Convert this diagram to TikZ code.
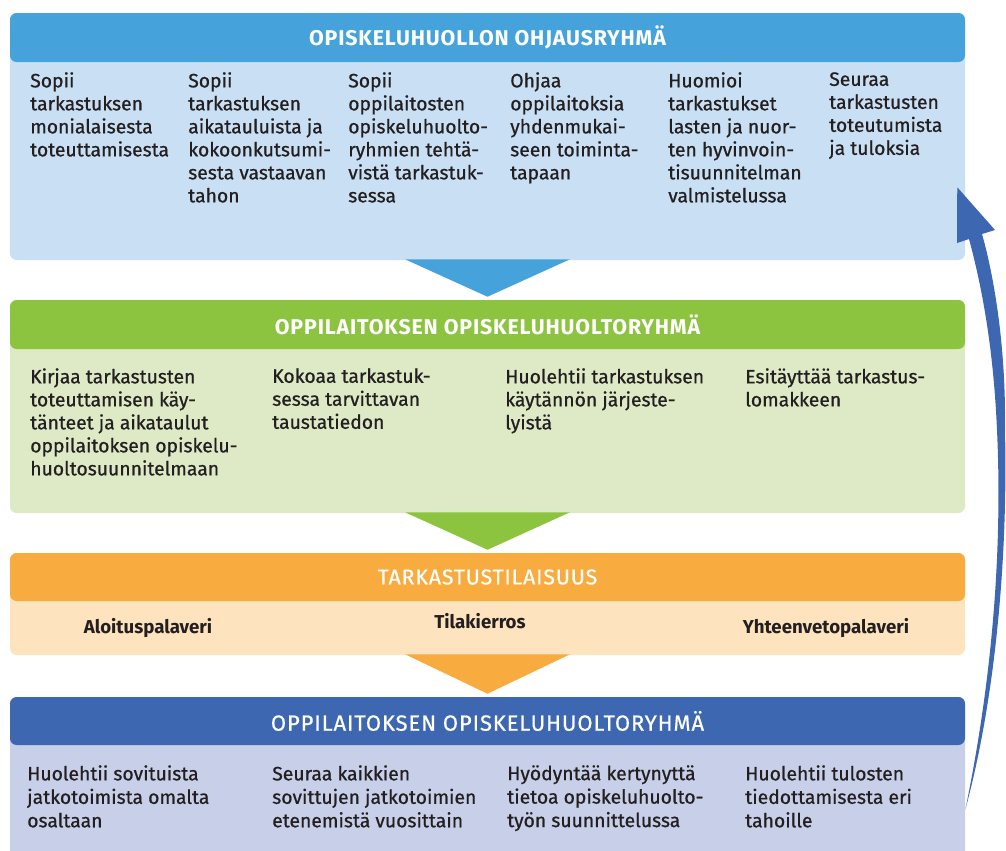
\documentclass[tikz,border=0pt]{standalone}
\usepackage{fontspec}
\setmainfont{Fira Sans}
\newfontfamily\leipa[FakeBold=0.7]{Fira Sans}
\newfontfamily\otsake[LetterSpace=4]{Fira Sans}
\newfontfamily\otsakeohut[LetterSpace=4, FakeBold=0.6]{Fira Sans}
\usetikzlibrary{calc,fit}

\definecolor{sininen}{HTML}{46A2DB}
\definecolor{sininenvaalea}{HTML}{C9DFF3}
\definecolor{vihrea}{HTML}{8DC43F}
\definecolor{vihreavaalea}{HTML}{DDEAC5}
\definecolor{oranssi}{HTML}{F8AB3E}
\definecolor{oranssivaalea}{HTML}{FDE3BE}
\definecolor{tumma}{HTML}{3E67B1}
\definecolor{tummavaalea}{HTML}{C8CFE8}
\definecolor{teksti}{HTML}{231F20}

\tikzset{
  runko/.style={fill=#1, rounded corners=5pt, inner sep=0pt},
  otsikko/.style={fill=#1, rounded corners=5pt, anchor=north, minimum width=716.25pt,
    minimum height=36.75pt, text=white, font=\otsake\bfseries\fontsize{16}{18}\selectfont},
  palsta/.style={anchor=north west, align=left, inner sep=0pt, text=teksti,
    font=\leipa\fontsize{14.5}{17.25}\selectfont},
  alapalsta/.style={palsta, font=\leipa\fontsize{14.5}{17.6}\selectfont},
  vaihe/.style={inner sep=0pt, text=teksti, font=\bfseries\fontsize{14}{16}\selectfont},
}

\begin{document}
\begin{tikzpicture}[x=0.75pt, y=-0.75pt]
    \useasboundingbox (0,0) rectangle (1006,850);
    \clip (0,0) rectangle (1006,850);

    % Ohjausryhma
    \coordinate (o1) at (10,13);
    \coordinate (o2) at (965,260);
    \node[runko=sininenvaalea, fit=(o1)(o2)] (ohjaus) {};
    \node[otsikko=sininen] (ohjausotsikko) at (ohjaus.north) {OPISKELUHUOLLON OHJAUSRYHMÄ};

    \node[palsta] (ohjaus1) at (30,72) {Sopii\\tarkastuksen\\monialaisesta\\toteuttamisesta};
    \node[palsta] (ohjaus2) at (188,72) {Sopii\\tarkastuksen\\aikatauluista ja\\kokoonkutsumi-\\sesta vastaavan\\tahon};
    \node[palsta] (ohjaus3) at (348,72) {Sopii\\oppilaitosten\\opiskeluhuolto-\\ryhmien tehtä-\\vistä tarkastuk-\\sessa};
    \node[palsta] (ohjaus4) at (510,72) {Ohjaa\\oppilaitoksia\\yhdenmukai-\\seen toiminta-\\tapaan};
    \node[palsta] (ohjaus5) at (668,72) {Huomioi\\tarkastukset\\lasten ja nuor-\\ten hyvinvoin-\\tisuunnitelman\\valmistelussa};
    \node[palsta] (ohjaus6) at (829,72) {Seuraa\\tarkastusten\\toteutumista\\ja tuloksia};

    % Oppilaitoksen ryhma ennen tarkastusta
    \coordinate (r1) at (10,300);
    \coordinate (r2) at (965,513);
    \node[runko=vihreavaalea, fit=(r1)(r2)] (ryhma) {};
    \node[otsikko=vihrea] (ryhmaotsikko) at (ryhma.north) {OPPILAITOKSEN OPISKELUHUOLTORYHMÄ};

    \node[palsta] (ryhma1) at (30,368) {Kirjaa tarkastusten\\toteuttamisen käy-\\tänteet ja aikataulut\\oppilaitoksen opiskelu-\\huoltosuunnitelmaan};
    \node[palsta] (ryhma2) at (272,368) {Kokoaa tarkastuk-\\sessa tarvittavan\\taustatiedon};
    \node[palsta] (ryhma3) at (505,368) {Huolehtii tarkastuksen\\käytännön järjeste-\\lyistä};
    \node[palsta] (ryhma4) at (745,368) {Esitäyttää tarkastus-\\lomakkeen};

    % Tarkastustilaisuus
    \coordinate (t1) at (10,553);
    \coordinate (t2) at (965,655);
    \node[runko=oranssivaalea, fit=(t1)(t2)] (tilaisuus) {};
    \node[otsikko=oranssi, minimum height=36pt, font=\otsakeohut\fontsize{16}{18}\selectfont] (tilaisuusotsikko) at (tilaisuus.north) {TARKASTUSTILAISUUS};

    \node[vaihe] (aloitus) at (148,628) {Aloituspalaveri};
    \node[vaihe] (kierros) at (480,621) {Tilakierros};
    \node[vaihe] (yhteenveto) at (826,628) {Yhteenvetopalaveri};

    % Jatkotoimet
    \coordinate (h1) at (10,697);
    \coordinate (h2) at (965,870);
    \node[runko=tummavaalea, fit=(h1)(h2)] (jatko) {};
    \node[otsikko=tumma, minimum height=36pt, font=\otsakeohut\fontsize{16.5}{19}\selectfont] (jatkootsikko) at (jatko.north) {OPPILAITOKSEN OPISKELUHUOLTORYHMÄ};

    \node[alapalsta] (jatko1) at (27,765) {Huolehtii sovituista\\jatkotoimista omalta\\osaltaan};
    \node[alapalsta] (jatko2) at (272,765) {Seuraa kaikkien\\sovittujen jatkotoimien\\etenemistä vuosittain};
    \node[alapalsta] (jatko3) at (507,765) {Hyödyntää kertynyttä\\tietoa opiskeluhuolto-\\työn suunnittelussa};
    \node[alapalsta] (jatko4) at (745,765) {Huolehtii tulosten\\tiedottamisesta eri\\tahoille};

    % Kolmiot laatikoiden valissa
    \foreach \ylempi/\alempi/\vari in {ohjaus/ryhma/sininen, ryhma/tilaisuus/vihrea, tilaisuus/jatko/oranssi}
        \fill[\vari] ($(\ylempi.south)+(-82.5,-1)$) -- ($(\ylempi.south)+(82.5,-1)$) -- ($(\alempi.north)+(0,-3)$) -- cycle;

    % Paluunuoli
    \coordinate (nuolenalku) at ($(jatko.north east)+(0,113)$);
    \coordinate (nuolenkarki) at ($(ohjaus.south east)+(-8,-73)$);
    \fill[tumma] (nuolenalku) .. controls (990,690) and (1003,560) .. (997,430)
        .. controls (993,340) and (980,280) .. (969,239) -- (957,243) -- (nuolenkarki)
        -- (995,230) -- (982,234) .. controls (995,280) and (1006,350) .. (1005,430)
        .. controls (1008,560) and (995,700) .. (nuolenalku) -- cycle;
\end{tikzpicture}
\end{document}
